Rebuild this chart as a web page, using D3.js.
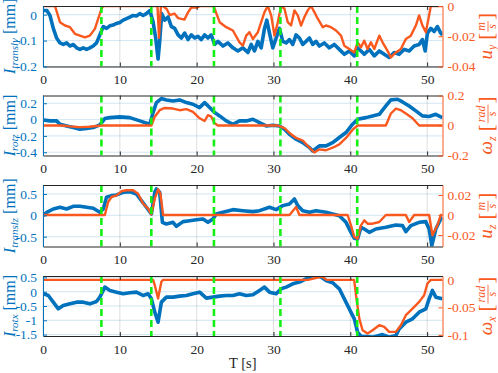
<!DOCTYPE html>
<html>
<head>
<meta charset="utf-8">
<script src="https://cdn.jsdelivr.net/npm/d3@7"></script>
<style>
  body { margin: 0; background: #fff; }
  svg { display: block; }
</style>
</head>
<body>
<div id="chart"></div>
<script>
// tiempos de los eventos (lineas verdes) y ticks del eje x
const eventTimes = [7.6, 14.1, 22.25, 30.9, 40.9];
const xTicks = [0, 10, 20, 30, 40, 50];

// panel 1: I_transly [mm] y u_y [m/s]
const transyI = [[0,0.016],[0.5,0.016],[0.91,-0.003],[1.34,-0.053],[1.77,-0.09],[2.21,-0.109],[2.64,-0.115],[3.07,-0.109],[3.51,-0.121],[3.94,-0.115],[4.37,-0.128],[4.81,-0.134],[5.24,-0.128],[5.67,-0.134],[6.1,-0.128],[6.54,-0.121],[6.97,-0.109],[7.4,-0.078],[7.84,-0.046],[8.27,-0.053],[8.7,-0.043],[9.13,-0.04],[9.57,-0.034],[10,-0.03],[10.43,-0.021],[10.87,-0.015],[11.3,-0.009],[11.73,-0.003],[12.16,-0.005],[12.6,0.004],[13.03,-0.003],[13.46,0.004],[13.9,0.016],[14.33,-0.028],[14.67,-0.09],[14.98,-0.171],[15.19,-0.103],[15.45,0.004],[15.84,-0.021],[16.28,-0.009],[16.71,-0.046],[17.14,-0.053],[17.58,-0.078],[18.01,-0.09],[18.44,-0.071],[18.87,-0.096],[19.31,-0.078],[19.74,-0.09],[20.17,-0.084],[20.61,-0.096],[21.04,-0.078],[21.47,-0.09],[21.9,-0.078],[22.34,-0.115],[22.77,-0.103],[23.42,-0.121],[24.07,-0.109],[24.72,-0.128],[25.37,-0.14],[26.02,-0.128],[26.67,-0.146],[27.1,-0.115],[27.53,-0.14],[27.97,-0.103],[28.4,-0.128],[28.83,-0.053],[29.13,-0.021],[29.48,-0.071],[29.91,-0.128],[30.35,-0.09],[30.78,-0.053],[31.21,-0.103],[31.65,-0.109],[32.08,-0.096],[32.51,-0.115],[32.94,-0.078],[33.38,-0.09],[33.81,-0.115],[34.24,-0.103],[34.68,-0.09],[35.11,-0.115],[35.54,-0.103],[35.97,-0.121],[36.62,-0.109],[37.27,-0.128],[37.92,-0.115],[38.57,-0.134],[39.22,-0.153],[39.87,-0.14],[40.52,-0.159],[40.95,-0.128],[41.39,-0.14],[41.82,-0.153],[42.47,-0.134],[43.12,-0.159],[43.77,-0.14],[44.42,-0.153],[45.06,-0.165],[45.71,-0.146],[46.36,-0.153],[47.01,-0.134],[47.66,-0.14],[48.31,-0.121],[48.96,-0.115],[49.39,-0.096],[49.74,-0.14],[50.04,-0.071],[50.48,-0.053],[50.91,-0.065],[51.34,-0.046],[51.77,-0.071],[52,-0.078]];
const uy = [[0,0],[1.56,0],[2.21,-0.0107],[2.86,-0.0129],[3.51,-0.014],[4.16,-0.0184],[4.81,-0.0196],[5.45,-0.0207],[6.1,-0.0196],[6.75,-0.0151],[7.19,-0.0084],[7.62,-0.0018],[7.84,0],[14.9,0],[15.1,-0.021],[15.35,0],[15.6,0],[16.1,-0.002],[16.5,-0.006],[17.1,-0.005],[17.6,-0.008],[18.4,-0.009],[18.9,-0.004],[19.3,-0.001],[20,-0.001],[20.5,0],[22.2,0],[22.34,-0.0018],[22.99,-0.0107],[23.85,-0.014],[24.72,-0.0162],[25.58,-0.024],[26.02,-0.0262],[26.45,-0.0196],[26.88,-0.0173],[27.32,-0.0218],[27.97,-0.0173],[28.4,-0.0107],[28.83,-0.004],[29.26,0],[29.7,-0.0062],[30.13,-0.0196],[30.56,-0.0107],[31,0],[31.43,-0.0018],[31.86,-0.0107],[32.29,-0.0129],[32.73,-0.0029],[33.16,-0.0062],[33.59,-0.0129],[34.03,-0.0073],[34.46,-0.0029],[34.89,0],[35.32,-0.004],[35.76,-0.0084],[36.41,-0.014],[36.84,-0.0129],[37.49,-0.014],[38.14,-0.0162],[38.79,-0.0196],[39.22,-0.0262],[39.87,-0.0284],[40.52,-0.0307],[40.95,-0.024],[41.39,-0.0273],[41.82,-0.0229],[42.25,-0.0284],[42.68,-0.024],[43.12,-0.0284],[43.77,-0.0196],[44.2,-0.024],[44.85,-0.0296],[45.28,-0.034],[45.93,-0.0307],[46.58,-0.0284],[47.23,-0.0218],[47.88,-0.0196],[48.53,-0.0129],[48.96,-0.0062],[49.39,-0.0129],[49.83,-0.0173],[50.26,-0.0062],[50.48,0],[52,0]];

// panel 2: I_rotz [mm] y omega_z [rad/s]
const rotzI = [[0.04,-0.004],[0.91,-0.016],[1.77,-0.016],[2.21,-0.057],[3.07,-0.078],[3.94,-0.098],[4.81,-0.118],[5.67,-0.11],[6.54,-0.098],[7.4,-0.065],[8.05,0.012],[8.7,0.024],[10,0.033],[11.3,0.024],[12.6,-0.016],[13.9,-0.057],[14.33,0.086],[14.76,0.208],[15.41,0.257],[16.06,0.241],[16.93,0.228],[17.79,0.241],[18.66,0.208],[19.52,0.188],[20.39,0.147],[21.04,0.208],[21.69,0.147],[22.34,0.086],[22.99,0.045],[23.85,-0.016],[24.72,-0.057],[25.58,-0.016],[26.45,-0.016],[27.32,0.004],[28.18,-0.037],[29.05,-0.078],[29.91,-0.069],[30.78,-0.078],[31.43,-0.118],[32.08,-0.18],[32.94,-0.241],[33.81,-0.282],[34.68,-0.343],[35.11,-0.384],[35.97,-0.322],[36.84,-0.322],[37.71,-0.282],[38.57,-0.22],[39.44,-0.159],[40.3,-0.057],[40.95,0.004],[42.03,0.024],[42.9,0.045],[43.77,0.065],[44.63,0.167],[45.28,0.241],[46.15,0.249],[46.8,0.216],[47.66,0.167],[48.53,0.106],[49.39,0.045],[50.26,0.037],[51.13,0.065],[51.99,0.024]];
const wz = [[0,0],[2.5,0],[3.5,-0.006],[4.5,-0.01],[5,-0.011],[6,-0.008],[7,-0.003],[7.6,0],[14.11,0],[14.55,0.059],[15.19,0.102],[15.84,0.117],[16.93,0.113],[17.79,0.102],[18.66,0.109],[19.52,0.091],[20.39,0.048],[21.04,0.03],[21.47,0.069],[21.9,0.059],[22.34,0.015],[22.77,0],[30.56,0],[31.43,-0.017],[32.08,-0.05],[32.94,-0.083],[33.81,-0.1],[34.68,-0.148],[35.32,-0.18],[35.97,-0.159],[36.84,-0.165],[37.71,-0.148],[38.57,-0.126],[39.44,-0.083],[40.3,-0.028],[40.95,0],[44.63,0],[45.28,0.08],[45.93,0.113],[46.58,0.102],[47.23,0.08],[48.1,0.048],[48.96,0],[52,0]];

// panel 3: I_translz [mm] y u_z [m/s]
const translzI = [[0.04,-0.008],[0.48,0.07],[1.34,0.148],[2.21,0.188],[3.07,0.148],[3.94,0.211],[4.81,0.211],[5.67,0.188],[6.54,0.164],[7.4,0.07],[7.84,0.148],[8.27,0.422],[8.92,0.461],[9.57,0.477],[10.43,0.539],[11.3,0.555],[12.16,0.5],[12.81,0.344],[13.46,0.188],[14.11,0.031],[14.55,0.539],[14.76,0.617],[15.19,0.539],[15.54,-0.164],[16.06,-0.203],[16.93,-0.164],[17.36,-0.258],[18.23,-0.148],[19.09,-0.125],[19.96,-0.102],[20.82,-0.086],[21.47,-0.164],[22.12,-0.086],[22.55,0.031],[23.42,0.07],[24.72,0.133],[26.02,0.109],[27.32,0.086],[28.18,0.109],[29.48,0.188],[30.35,0.133],[31.21,0.227],[32.08,0.266],[32.73,0.383],[33.16,0.227],[33.81,0.109],[34.68,0.07],[35.54,0.109],[36.84,0.07],[37.71,0.031],[38.57,-0.008],[39.44,-0.164],[40.09,-0.398],[40.52,-0.539],[40.95,-0.555],[41.39,-0.281],[41.82,-0.32],[42.47,-0.398],[43.33,-0.32],[44.63,-0.281],[45.93,-0.227],[46.8,-0.242],[47.23,-0.383],[47.88,-0.242],[48.96,-0.164],[49.83,-0.148],[50.26,-0.32],[50.61,-0.711],[51.13,-0.32],[51.77,-0.086],[52,-0.05]];
const uz = [[0,0],[8.05,0],[8.48,0.013],[8.92,0.018],[9.57,0.0197],[10.2,0.0237],[10.87,0.0247],[11.73,0.0247],[12.38,0.0213],[13.03,0.0113],[13.68,0.0063],[14.11,0.0007],[14.55,0.0163],[14.98,0.0257],[15.28,0.0213],[15.63,0],[32.08,0],[32.94,0.008],[33.38,0],[39.65,0],[40.09,-0.0103],[40.52,-0.022],[40.95,-0.0237],[41.39,-0.0103],[41.82,-0.0053],[42.25,-0.0087],[42.9,-0.0087],[43.77,-0.007],[44.63,0],[47.23,0],[47.66,-0.007],[48.31,0],[50.26,0],[50.69,-0.0203],[51.34,-0.0103],[51.77,0],[52,0]];

// panel 4: I_rotx [mm] y omega_x [rad/s]
const rotxI = [[0.04,-0.073],[0.69,-0.132],[1.34,-0.365],[1.99,-0.599],[2.64,-0.482],[3.51,-0.424],[4.37,-0.365],[5.24,-0.365],[6.1,-0.424],[6.97,-0.342],[7.4,-0.19],[8.05,0.161],[8.7,0.044],[9.57,-0.015],[10.43,-0.073],[11.3,-0.038],[12.16,-0.015],[13.03,-0.132],[13.68,-0.073],[14.11,-0.249],[14.55,-0.716],[14.98,-1.067],[15.41,-0.365],[16.06,-0.19],[16.93,-0.19],[17.79,-0.155],[18.66,-0.132],[19.52,-0.073],[20.39,-0.015],[21.26,-0.225],[22.12,-0.19],[22.99,-0.155],[23.85,-0.132],[24.72,-0.132],[25.58,-0.073],[26.45,-0.132],[27.32,-0.108],[28.18,0.044],[28.83,0.161],[29.48,-0.015],[30.35,-0.073],[31,0.102],[31.65,0.161],[32.51,0.278],[33.38,0.336],[34.24,0.453],[34.89,0.547],[35.54,0.57],[36.19,0.512],[36.84,0.395],[37.71,0.313],[38.57,0.102],[39.22,-0.249],[39.87,-0.599],[40.52,-0.95],[40.95,-1.418],[41.39,-1.558],[42.9,-1.59],[44.2,-1.5],[45.06,-1.59],[45.93,-1.535],[46.36,-1.301],[47.23,-1.067],[48.1,-0.95],[48.96,-0.716],[49.83,-0.599],[50.26,-0.249],[50.69,0.044],[51.13,-0.19],[51.99,-0.25]];
const wx = [[0,0],[14.33,0],[14.55,-0.0097],[14.98,-0.0339],[15.41,-0.0036],[15.63,0],[34.5,0],[36.3,0.006],[36.9,0],[40.5,0],[40.74,-0.0279],[41.17,-0.0703],[41.6,-0.0915],[42.25,-0.0976],[42.9,-0.0915],[43.77,-0.0824],[44.42,-0.0855],[45.06,-0.0945],[45.93,-0.0945],[46.58,-0.0824],[47.23,-0.0642],[48.1,-0.0521],[48.96,-0.04],[49.61,-0.0279],[50.04,-0.0067],[50.48,0],[52,0]];

// ticks de cada eje y
const ticksL = [[-0.2, -0.1, 0], [-0.4, -0.2, 0, 0.2], [-0.5, 0, 0.5], [-1.5, -1, -0.5, 0, 0.5]];
const ticksR = [[-0.04, -0.02, 0], [-0.2, 0, 0.2], [-0.02, 0, 0.02], [-0.1, -0.05, 0]];
const subsI = ["transly", "rotz", "translz", "rotx"];
const symsR = [["u", "y", "m", "s"], ["ω", "z", "rad", "s"], ["u", "z", "m", "s"], ["ω", "x", "rad", "s"]];

// colores y fuentes
const blue = "#0072BD", orange = "#F9581E", green = "#14F014", dark = "#262626";
const serif = "'Liberation Serif', 'Times New Roman', serif";

const width = 498, height = 373;
const svg = d3.select("#chart").append("svg")
    .attr("width", width)
    .attr("height", height);

const x = d3.scaleLinear().domain([0, 52]).range([43, 442.5]);

const panels = [
    { top: 6, h: 60.5, I: transyI, u: uy, dL: [-0.2, 0.0335], dR: [-0.04, 0] },
    { top: 95.5, h: 60, I: rotzI, u: wz, dL: [-0.44, 0.295], dR: [-0.2, 0.2] },
    { top: 185, h: 61.5, I: translzI, u: uz, dL: [-0.73, 0.71], dR: [-0.0315, 0.03] },
    { top: 276, h: 60, I: rotxI, u: wx, dL: [-1.55, 0.55], dR: [-0.102, 0.007] }
];

panels.forEach((p, i) => {
    const y0 = p.top, y1 = p.top + p.h;
    const yL = d3.scaleLinear().domain(p.dL).range([y1, y0]);
    const yR = d3.scaleLinear().domain(p.dR).range([y1, y0]);
    const g = svg.append("g");

    // rejilla
    g.selectAll(".vgrid").data(xTicks).join("line")
        .attr("x1", d => x(d)).attr("x2", d => x(d))
        .attr("y1", y0).attr("y2", y1)
        .attr("stroke", dark).attr("stroke-opacity", 0.15);
    g.selectAll(".hgrid").data(ticksL[i]).join("line")
        .attr("x1", x.range()[0]).attr("x2", x.range()[1])
        .attr("y1", d => yL(d)).attr("y2", d => yL(d))
        .attr("stroke", blue).attr("stroke-opacity", 0.18);

    // recorte
    svg.append("clipPath").attr("id", "clip" + i)
        .append("rect").attr("x", x.range()[0]).attr("y", y0)
        .attr("width", x.range()[1] - x.range()[0]).attr("height", p.h);
    const plot = g.append("g").attr("clip-path", `url(#clip${i})`);

    plot.append("path").datum(p.I)
        .attr("fill", "none").attr("stroke", blue)
        .attr("stroke-width", 3.6).attr("stroke-linejoin", "round")
        .attr("d", d3.line().x(d => x(d[0])).y(d => yL(d[1])));
    plot.append("path").datum(p.u)
        .attr("fill", "none").attr("stroke", orange)
        .attr("stroke-width", 2.4).attr("stroke-linejoin", "round")
        .attr("d", d3.line().x(d => x(d[0])).y(d => yR(d[1])));

    // lineas verdes de eventos
    plot.selectAll(".ev").data(eventTimes).join("line")
        .attr("x1", d => x(d)).attr("x2", d => x(d))
        .attr("y1", y0).attr("y2", y1)
        .attr("stroke", green).attr("stroke-width", 2.6)
        .attr("stroke-dasharray", "7,4");

    // ejes
    const xb = g.append("g").attr("transform", `translate(0,${y1})`)
        .call(d3.axisBottom(x).tickValues(xTicks).tickSizeInner(-4).tickSizeOuter(0)
            .tickPadding(8).tickFormat(d => String(d)));
    xb.selectAll("text").attr("fill", dark);
    xb.selectAll("line, path").attr("stroke", dark);

    const xt = g.append("g").attr("transform", `translate(0,${y0})`)
        .call(d3.axisTop(x).tickValues(xTicks).tickSizeInner(-4).tickSizeOuter(0).tickFormat(""));
    xt.selectAll("line, path").attr("stroke", dark);

    const al = g.append("g").attr("transform", `translate(${x.range()[0]},0)`)
        .call(d3.axisLeft(yL).tickValues(ticksL[i]).tickSizeInner(-4).tickSizeOuter(0)
            .tickPadding(6).tickFormat(d => String(d)));
    al.selectAll("text").attr("fill", blue);
    al.selectAll("line, path").attr("stroke", blue);

    const ar = g.append("g").attr("transform", `translate(${x.range()[1]},0)`)
        .call(d3.axisRight(yR).tickValues(ticksR[i]).tickSizeInner(-4).tickSizeOuter(0)
            .tickPadding(5).tickFormat(d => String(d)));
    ar.selectAll("text").attr("fill", orange);
    ar.selectAll("line, path").attr("stroke", orange);

    g.selectAll(".tick text").style("font-family", serif).style("font-size", "13.5px");
    g.selectAll(".domain").attr("stroke-width", 1);

    // etiqueta izquierda
    const cy = (y0 + y1) / 2;
    const lt = svg.append("text")
        .attr("transform", `translate(15,${cy}) rotate(-90)`)
        .attr("text-anchor", "middle")
        .attr("fill", blue)
        .style("font-family", serif).style("font-size", "16px");
    lt.append("tspan").style("font-style", "italic").text("I");
    lt.append("tspan").style("font-style", "italic").style("font-size", "11px")
        .attr("dy", 3).text(subsI[i]);
    lt.append("tspan").attr("dy", -3).text(" [mm]");

    // etiqueta derecha con fraccion
    const [sym, sub, num, den] = symsR[i];
    const gr = svg.append("g")
        .attr("transform", `translate(492,${cy}) rotate(-90)`)
        .attr("fill", orange)
        .style("font-family", serif);
    const inner = gr.append("g");
    let cx = 0;
    const t1 = inner.append("text").attr("x", cx).attr("y", 0)
        .style("font-size", "19px").style("font-style", "italic").text(sym);
    cx += t1.node().getComputedTextLength();
    const t2 = inner.append("text").attr("x", cx).attr("y", 4)
        .style("font-size", "12px").style("font-style", "italic").text(sub);
    cx += t2.node().getComputedTextLength() + 5;
    const b1 = inner.append("text").attr("x", cx).attr("y", 1)
        .style("font-size", "21px").text("[");
    cx += b1.node().getComputedTextLength() + 1;
    const tn = inner.append("text").attr("y", -7)
        .style("font-size", "12px").style("font-style", "italic").attr("text-anchor", "middle").text(num);
    const td = inner.append("text").attr("y", 4)
        .style("font-size", "12px").style("font-style", "italic").attr("text-anchor", "middle").text(den);
    const fw = Math.max(tn.node().getComputedTextLength(), td.node().getComputedTextLength()) + 2;
    tn.attr("x", cx + fw / 2);
    td.attr("x", cx + fw / 2);
    inner.append("line").attr("x1", cx).attr("x2", cx + fw)
        .attr("y1", -4).attr("y2", -4)
        .attr("stroke", orange).attr("stroke-width", 0.8);
    cx += fw + 1;
    const b2 = inner.append("text").attr("x", cx).attr("y", 1)
        .style("font-size", "21px").text("]");
    cx += b2.node().getComputedTextLength();
    inner.attr("transform", `translate(${-cx / 2},0)`);
});

// titulo del eje x
svg.append("text")
    .attr("x", x(26)).attr("y", 368)
    .attr("text-anchor", "middle")
    .attr("fill", dark)
    .style("font-family", serif).style("font-size", "14.5px")
    .text("T [s]");
</script>
</body>
</html>
